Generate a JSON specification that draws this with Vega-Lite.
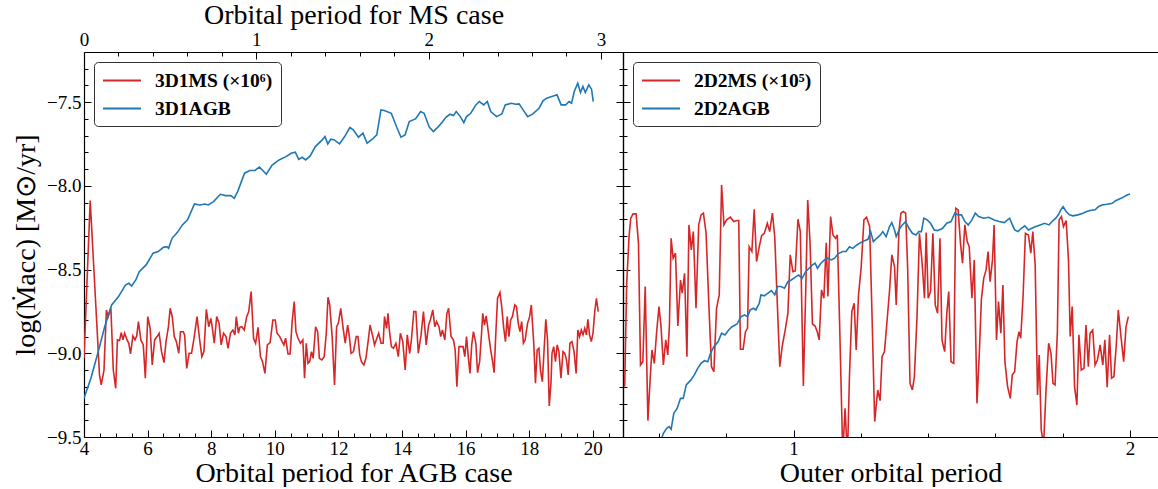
{
"$schema": "https://vega.github.io/schema/vega-lite/v6.json",
"background": "white",
"padding": {"left": 12, "top": 1, "right": 0, "bottom": 0},
"bounds": "flush",
"spacing": 0,
"config": {
  "font": "Liberation Serif",
  "view": {"stroke": null},
  "axis": {"labelFont": "Liberation Serif", "titleFont": "Liberation Serif", "labelFontSize": 19, "titleFontSize": 28, "titleFontWeight": "normal", "labelColor": "#000", "titleColor": "#000", "tickColor": "#000", "domainColor": "#000", "domainWidth": 1.2, "tickWidth": 1, "grid": false, "labelFlush": false, "labelOverlap": false},
  "legend": {"orient": "top-left", "offset": 10, "strokeColor": "#333", "cornerRadius": 4, "fillColor": "white", "padding": 8, "labelFont": "Liberation Serif", "labelFontSize": 19.5, "labelFontWeight": "bold", "labelColor": "#000", "symbolType": "M-1,0H3", "symbolStrokeWidth": 2, "symbolSize": 361, "labelOffset": 32, "rowPadding": 8}
},
"resolve": {"scale": {"color": "independent"}, "legend": {"color": "independent"}},
"datasets": {
"l_ms": [{"p":0,"v":-9.030},{"p":0.036,"v":-8.088},{"p":0.07,"v":-8.741},{"p":0.09,"v":-9.129},{"p":0.1,"v":-9.189},{"p":0.116,"v":-9.100},{"p":0.13,"v":-8.741},{"p":0.14,"v":-8.781},{"p":0.156,"v":-8.731},{"p":0.17,"v":-9.100},{"p":0.184,"v":-9.209},{"p":0.194,"v":-8.920},{"p":0.206,"v":-8.924},{"p":0.216,"v":-8.876},{"p":0.226,"v":-8.920},{"p":0.236,"v":-8.880},{"p":0.25,"v":-8.920},{"p":0.26,"v":-8.940},{"p":0.27,"v":-9.004},{"p":0.284,"v":-8.896},{"p":0.296,"v":-8.920},{"p":0.306,"v":-8.896},{"p":0.316,"v":-8.811},{"p":0.33,"v":-8.920},{"p":0.344,"v":-8.950},{"p":0.356,"v":-9.149},{"p":0.37,"v":-8.781},{"p":0.384,"v":-8.851},{"p":0.396,"v":-9.070},{"p":0.41,"v":-8.920},{"p":0.424,"v":-8.900},{"p":0.436,"v":-8.880},{"p":0.45,"v":-8.990},{"p":0.464,"v":-9.056},{"p":0.476,"v":-8.930},{"p":0.49,"v":-8.841},{"p":0.5,"v":-8.731},{"p":0.512,"v":-8.781},{"p":0.524,"v":-8.900},{"p":0.536,"v":-8.930},{"p":0.55,"v":-9.000},{"p":0.56,"v":-8.871},{"p":0.576,"v":-8.871},{"p":0.584,"v":-8.890},{"p":0.596,"v":-9.090},{"p":0.61,"v":-9.000},{"p":0.624,"v":-9.000},{"p":0.64,"v":-8.900},{"p":0.656,"v":-8.781},{"p":0.67,"v":-8.910},{"p":0.684,"v":-9.020},{"p":0.696,"v":-8.990},{"p":0.71,"v":-8.737},{"p":0.724,"v":-8.841},{"p":0.736,"v":-8.791},{"p":0.744,"v":-8.841},{"p":0.756,"v":-8.940},{"p":0.77,"v":-8.781},{"p":0.784,"v":-8.821},{"p":0.796,"v":-8.950},{"p":0.81,"v":-8.880},{"p":0.824,"v":-8.900},{"p":0.836,"v":-8.970},{"p":0.85,"v":-8.880},{"p":0.864,"v":-8.861},{"p":0.876,"v":-8.890},{"p":0.884,"v":-8.781},{"p":0.896,"v":-8.880},{"p":0.904,"v":-8.845},{"p":0.916,"v":-8.841},{"p":0.93,"v":-8.861},{"p":0.944,"v":-8.781},{"p":0.956,"v":-8.751},{"p":0.97,"v":-8.631},{"p":0.984,"v":-8.910},{"p":0.996,"v":-8.940},{"p":1.01,"v":-8.845},{"p":1.024,"v":-9.020},{"p":1.036,"v":-9.050},{"p":1.05,"v":-9.120},{"p":1.064,"v":-8.950},{"p":1.08,"v":-8.936},{"p":1.096,"v":-8.801},{"p":1.11,"v":-8.801},{"p":1.12,"v":-8.880},{"p":1.136,"v":-8.900},{"p":1.15,"v":-8.930},{"p":1.16,"v":-8.950},{"p":1.17,"v":-8.910},{"p":1.184,"v":-9.004},{"p":1.196,"v":-9.004},{"p":1.208,"v":-8.811},{"p":1.22,"v":-8.691},{"p":1.23,"v":-8.871},{"p":1.24,"v":-8.904},{"p":1.256,"v":-8.940},{"p":1.27,"v":-8.920},{"p":1.28,"v":-9.149},{"p":1.29,"v":-8.940},{"p":1.3,"v":-9.060},{"p":1.31,"v":-9.050},{"p":1.32,"v":-8.990},{"p":1.33,"v":-9.030},{"p":1.344,"v":-8.841},{"p":1.356,"v":-8.871},{"p":1.366,"v":-9.030},{"p":1.38,"v":-9.040},{"p":1.394,"v":-9.020},{"p":1.406,"v":-8.880},{"p":1.416,"v":-8.665},{"p":1.426,"v":-8.711},{"p":1.44,"v":-8.900},{"p":1.454,"v":-9.189},{"p":1.466,"v":-8.841},{"p":1.476,"v":-8.821},{"p":1.49,"v":-8.731},{"p":1.504,"v":-8.851},{"p":1.516,"v":-8.940},{"p":1.53,"v":-8.831},{"p":1.54,"v":-8.900},{"p":1.55,"v":-9.000},{"p":1.564,"v":-8.990},{"p":1.58,"v":-8.900},{"p":1.59,"v":-8.900},{"p":1.6,"v":-9.010},{"p":1.61,"v":-9.050},{"p":1.624,"v":-9.070},{"p":1.636,"v":-9.030},{"p":1.65,"v":-8.920},{"p":1.66,"v":-8.831},{"p":1.676,"v":-8.900},{"p":1.686,"v":-8.950},{"p":1.696,"v":-8.920},{"p":1.71,"v":-8.880},{"p":1.724,"v":-8.940},{"p":1.736,"v":-8.940},{"p":1.744,"v":-8.781},{"p":1.756,"v":-8.851},{"p":1.764,"v":-8.761},{"p":1.774,"v":-8.880},{"p":1.784,"v":-8.960},{"p":1.796,"v":-8.970},{"p":1.81,"v":-8.940},{"p":1.824,"v":-9.020},{"p":1.836,"v":-8.880},{"p":1.85,"v":-8.930},{"p":1.864,"v":-9.100},{"p":1.876,"v":-8.890},{"p":1.89,"v":-9.000},{"p":1.9,"v":-8.920},{"p":1.914,"v":-8.751},{"p":1.926,"v":-8.751},{"p":1.94,"v":-9.000},{"p":1.956,"v":-8.890},{"p":1.97,"v":-8.751},{"p":1.986,"v":-8.950},{"p":2.0,"v":-8.831},{"p":2.01,"v":-8.801},{"p":2.024,"v":-8.741},{"p":2.036,"v":-8.841},{"p":2.046,"v":-8.811},{"p":2.06,"v":-8.841},{"p":2.07,"v":-8.900},{"p":2.08,"v":-8.861},{"p":2.094,"v":-8.920},{"p":2.106,"v":-8.761},{"p":2.116,"v":-8.731},{"p":2.13,"v":-8.900},{"p":2.144,"v":-8.920},{"p":2.154,"v":-8.980},{"p":2.164,"v":-9.199},{"p":2.176,"v":-8.960},{"p":2.19,"v":-8.960},{"p":2.2,"v":-8.960},{"p":2.21,"v":-9.020},{"p":2.22,"v":-8.900},{"p":2.23,"v":-9.020},{"p":2.24,"v":-9.120},{"p":2.25,"v":-8.950},{"p":2.26,"v":-8.871},{"p":2.274,"v":-8.940},{"p":2.284,"v":-9.116},{"p":2.296,"v":-9.050},{"p":2.306,"v":-8.900},{"p":2.314,"v":-8.761},{"p":2.324,"v":-8.831},{"p":2.334,"v":-8.777},{"p":2.346,"v":-8.871},{"p":2.36,"v":-8.980},{"p":2.37,"v":-9.040},{"p":2.38,"v":-9.116},{"p":2.39,"v":-8.880},{"p":2.4,"v":-8.671},{"p":2.414,"v":-8.637},{"p":2.424,"v":-8.721},{"p":2.436,"v":-8.851},{"p":2.446,"v":-8.930},{"p":2.456,"v":-8.781},{"p":2.466,"v":-8.900},{"p":2.476,"v":-8.801},{"p":2.486,"v":-8.781},{"p":2.5,"v":-8.711},{"p":2.51,"v":-8.721},{"p":2.52,"v":-8.821},{"p":2.53,"v":-8.871},{"p":2.54,"v":-8.811},{"p":2.55,"v":-8.940},{"p":2.56,"v":-8.920},{"p":2.574,"v":-8.821},{"p":2.586,"v":-8.781},{"p":2.596,"v":-8.711},{"p":2.61,"v":-8.940},{"p":2.62,"v":-9.179},{"p":2.63,"v":-8.980},{"p":2.64,"v":-8.970},{"p":2.65,"v":-9.110},{"p":2.66,"v":-9.169},{"p":2.67,"v":-8.980},{"p":2.68,"v":-8.797},{"p":2.69,"v":-8.920},{"p":2.7,"v":-9.315},{"p":2.71,"v":-9.179},{"p":2.716,"v":-9.000},{"p":2.726,"v":-8.960},{"p":2.736,"v":-9.050},{"p":2.746,"v":-8.950},{"p":2.756,"v":-8.990},{"p":2.768,"v":-9.149},{"p":2.78,"v":-8.990},{"p":2.79,"v":-9.000},{"p":2.8,"v":-9.040},{"p":2.81,"v":-9.129},{"p":2.82,"v":-8.940},{"p":2.832,"v":-8.930},{"p":2.844,"v":-8.990},{"p":2.856,"v":-9.120},{"p":2.866,"v":-8.861},{"p":2.876,"v":-8.900},{"p":2.886,"v":-8.861},{"p":2.896,"v":-8.890},{"p":2.906,"v":-8.851},{"p":2.916,"v":-8.890},{"p":2.924,"v":-8.797},{"p":2.934,"v":-8.890},{"p":2.944,"v":-8.930},{"p":2.954,"v":-8.880},{"p":2.964,"v":-8.751},{"p":2.974,"v":-8.671},{"p":2.984,"v":-8.751}],
"l_agb": [{"p":4.000,"v":-9.269},{"p":4.217,"v":-9.149},{"p":4.434,"v":-9.000},{"p":4.651,"v":-8.841},{"p":4.869,"v":-8.711},{"p":5.086,"v":-8.661},{"p":5.303,"v":-8.592},{"p":5.412,"v":-8.582},{"p":5.498,"v":-8.598},{"p":5.629,"v":-8.562},{"p":5.737,"v":-8.512},{"p":5.954,"v":-8.472},{"p":6.172,"v":-8.402},{"p":6.334,"v":-8.392},{"p":6.497,"v":-8.367},{"p":6.606,"v":-8.363},{"p":6.660,"v":-8.373},{"p":6.769,"v":-8.313},{"p":6.932,"v":-8.279},{"p":7.094,"v":-8.233},{"p":7.257,"v":-8.203},{"p":7.474,"v":-8.108},{"p":7.637,"v":-8.114},{"p":7.800,"v":-8.108},{"p":7.909,"v":-8.114},{"p":8.072,"v":-8.094},{"p":8.289,"v":-8.050},{"p":8.452,"v":-8.058},{"p":8.615,"v":-8.058},{"p":8.723,"v":-8.074},{"p":8.832,"v":-8.034},{"p":9.049,"v":-7.924},{"p":9.212,"v":-7.908},{"p":9.375,"v":-7.908},{"p":9.516,"v":-7.888},{"p":9.624,"v":-7.908},{"p":9.733,"v":-7.930},{"p":9.917,"v":-7.875},{"p":10.135,"v":-7.845},{"p":10.352,"v":-7.825},{"p":10.515,"v":-7.805},{"p":10.645,"v":-7.799},{"p":10.753,"v":-7.841},{"p":10.862,"v":-7.829},{"p":10.971,"v":-7.845},{"p":11.112,"v":-7.821},{"p":11.275,"v":-7.765},{"p":11.492,"v":-7.725},{"p":11.579,"v":-7.705},{"p":11.666,"v":-7.749},{"p":11.763,"v":-7.721},{"p":11.872,"v":-7.725},{"p":12.035,"v":-7.749},{"p":12.197,"v":-7.705},{"p":12.360,"v":-7.651},{"p":12.469,"v":-7.665},{"p":12.632,"v":-7.709},{"p":12.773,"v":-7.685},{"p":12.903,"v":-7.745},{"p":13.066,"v":-7.721},{"p":13.207,"v":-7.695},{"p":13.338,"v":-7.546},{"p":13.446,"v":-7.550},{"p":13.663,"v":-7.566},{"p":13.826,"v":-7.645},{"p":13.967,"v":-7.709},{"p":14.098,"v":-7.695},{"p":14.228,"v":-7.616},{"p":14.423,"v":-7.600},{"p":14.586,"v":-7.556},{"p":14.695,"v":-7.566},{"p":14.858,"v":-7.649},{"p":14.988,"v":-7.675},{"p":15.129,"v":-7.649},{"p":15.238,"v":-7.625},{"p":15.379,"v":-7.590},{"p":15.509,"v":-7.572},{"p":15.618,"v":-7.580},{"p":15.705,"v":-7.556},{"p":15.835,"v":-7.586},{"p":15.944,"v":-7.622},{"p":16.030,"v":-7.586},{"p":16.161,"v":-7.566},{"p":16.324,"v":-7.516},{"p":16.432,"v":-7.496},{"p":16.573,"v":-7.516},{"p":16.682,"v":-7.496},{"p":16.790,"v":-7.556},{"p":16.975,"v":-7.586},{"p":17.138,"v":-7.570},{"p":17.247,"v":-7.516},{"p":17.442,"v":-7.506},{"p":17.572,"v":-7.512},{"p":17.681,"v":-7.510},{"p":17.789,"v":-7.540},{"p":17.952,"v":-7.586},{"p":18.115,"v":-7.570},{"p":18.310,"v":-7.536},{"p":18.441,"v":-7.490},{"p":18.549,"v":-7.476},{"p":18.712,"v":-7.466},{"p":18.875,"v":-7.456},{"p":19.005,"v":-7.516},{"p":19.147,"v":-7.516},{"p":19.255,"v":-7.496},{"p":19.331,"v":-7.506},{"p":19.418,"v":-7.436},{"p":19.527,"v":-7.386},{"p":19.613,"v":-7.442},{"p":19.689,"v":-7.406},{"p":19.765,"v":-7.442},{"p":19.874,"v":-7.396},{"p":19.961,"v":-7.422},{"p":20.015,"v":-7.496}],
"r_ms": [{"p":0.498,"v":-9.199},{"p":0.504,"v":-8.582},{"p":0.511,"v":-8.303},{"p":0.516,"v":-8.193},{"p":0.523,"v":-8.167},{"p":0.532,"v":-8.167},{"p":0.539,"v":-8.343},{"p":0.545,"v":-9.070},{"p":0.552,"v":-9.050},{"p":0.559,"v":-8.601},{"p":0.567,"v":-9.402},{"p":0.573,"v":-9.179},{"p":0.579,"v":-8.980},{"p":0.586,"v":-9.060},{"p":0.593,"v":-8.871},{"p":0.600,"v":-8.721},{"p":0.606,"v":-8.841},{"p":0.613,"v":-9.070},{"p":0.620,"v":-8.920},{"p":0.626,"v":-9.010},{"p":0.631,"v":-8.831},{"p":0.636,"v":-8.313},{"p":0.642,"v":-8.432},{"p":0.649,"v":-8.402},{"p":0.656,"v":-8.837},{"p":0.664,"v":-8.562},{"p":0.669,"v":-8.641},{"p":0.676,"v":-8.522},{"p":0.683,"v":-9.020},{"p":0.689,"v":-8.233},{"p":0.696,"v":-8.382},{"p":0.702,"v":-8.273},{"p":0.710,"v":-8.731},{"p":0.718,"v":-8.233},{"p":0.725,"v":-8.173},{"p":0.732,"v":-8.163},{"p":0.740,"v":-8.283},{"p":0.748,"v":-8.701},{"p":0.756,"v":-9.080},{"p":0.763,"v":-9.110},{"p":0.771,"v":-8.731},{"p":0.779,"v":-8.651},{"p":0.786,"v":-7.994},{"p":0.793,"v":-8.233},{"p":0.801,"v":-8.203},{"p":0.812,"v":-8.187},{"p":0.822,"v":-8.213},{"p":0.832,"v":-8.207},{"p":0.837,"v":-8.207},{"p":0.842,"v":-8.976},{"p":0.850,"v":-8.976},{"p":0.857,"v":-8.871},{"p":0.863,"v":-8.851},{"p":0.868,"v":-8.363},{"p":0.876,"v":-8.392},{"p":0.883,"v":-8.139},{"p":0.890,"v":-8.452},{"p":0.898,"v":-8.363},{"p":0.905,"v":-8.297},{"p":0.913,"v":-8.283},{"p":0.922,"v":-8.223},{"p":0.929,"v":-8.273},{"p":0.937,"v":-8.163},{"p":0.944,"v":-8.303},{"p":0.952,"v":-8.721},{"p":0.959,"v":-9.080},{"p":0.966,"v":-8.960},{"p":0.975,"v":-8.861},{"p":0.983,"v":-8.761},{"p":0.990,"v":-8.412},{"p":0.998,"v":-8.512},{"p":1.005,"v":-8.508},{"p":1.013,"v":-8.199},{"p":1.020,"v":-8.273},{"p":1.029,"v":-9.195},{"p":1.036,"v":-8.631},{"p":1.042,"v":-8.084},{"p":1.049,"v":-8.343},{"p":1.056,"v":-8.825},{"p":1.064,"v":-8.837},{"p":1.071,"v":-8.876},{"p":1.076,"v":-8.920},{"p":1.083,"v":-8.621},{"p":1.090,"v":-8.671},{"p":1.097,"v":-8.339},{"p":1.102,"v":-8.661},{"p":1.110,"v":-8.183},{"p":1.117,"v":-8.293},{"p":1.125,"v":-8.313},{"p":1.130,"v":-8.293},{"p":1.137,"v":-8.841},{"p":1.146,"v":-9.600},{"p":1.153,"v":-9.329},{"p":1.160,"v":-9.620},{"p":1.166,"v":-9.139},{"p":1.173,"v":-8.751},{"p":1.180,"v":-8.701},{"p":1.186,"v":-8.980},{"p":1.193,"v":-8.651},{"p":1.201,"v":-8.482},{"p":1.209,"v":-8.203},{"p":1.217,"v":-8.187},{"p":1.226,"v":-8.243},{"p":1.234,"v":-8.841},{"p":1.241,"v":-9.408},{"p":1.250,"v":-9.219},{"p":1.257,"v":-9.283},{"p":1.263,"v":-9.020},{"p":1.270,"v":-8.990},{"p":1.277,"v":-8.825},{"p":1.285,"v":-8.631},{"p":1.292,"v":-8.412},{"p":1.300,"v":-8.482},{"p":1.305,"v":-8.711},{"p":1.313,"v":-8.273},{"p":1.319,"v":-8.163},{"p":1.326,"v":-8.153},{"p":1.333,"v":-8.163},{"p":1.339,"v":-8.492},{"p":1.346,"v":-9.179},{"p":1.353,"v":-9.219},{"p":1.359,"v":-9.139},{"p":1.367,"v":-8.771},{"p":1.374,"v":-8.283},{"p":1.382,"v":-8.462},{"p":1.389,"v":-8.671},{"p":1.394,"v":-8.279},{"p":1.400,"v":-8.671},{"p":1.407,"v":-8.631},{"p":1.414,"v":-8.283},{"p":1.421,"v":-8.711},{"p":1.428,"v":-8.761},{"p":1.435,"v":-8.313},{"p":1.441,"v":-8.920},{"p":1.449,"v":-8.990},{"p":1.455,"v":-8.771},{"p":1.461,"v":-8.631},{"p":1.468,"v":-9.050},{"p":1.476,"v":-9.060},{"p":1.482,"v":-8.133},{"p":1.489,"v":-8.143},{"p":1.496,"v":-8.343},{"p":1.502,"v":-8.462},{"p":1.509,"v":-8.233},{"p":1.516,"v":-8.333},{"p":1.522,"v":-8.363},{"p":1.530,"v":-8.671},{"p":1.537,"v":-8.442},{"p":1.545,"v":-9.299},{"p":1.552,"v":-9.000},{"p":1.558,"v":-8.681},{"p":1.565,"v":-8.552},{"p":1.572,"v":-8.502},{"p":1.578,"v":-8.392},{"p":1.584,"v":-8.572},{"p":1.591,"v":-8.442},{"p":1.596,"v":-8.233},{"p":1.603,"v":-8.920},{"p":1.609,"v":-8.691},{"p":1.616,"v":-8.880},{"p":1.622,"v":-8.592},{"p":1.628,"v":-9.050},{"p":1.636,"v":-9.199},{"p":1.644,"v":-9.269},{"p":1.650,"v":-9.129},{"p":1.657,"v":-9.110},{"p":1.664,"v":-8.930},{"p":1.670,"v":-8.871},{"p":1.675,"v":-8.910},{"p":1.682,"v":-8.661},{"p":1.689,"v":-8.283},{"p":1.698,"v":-8.293},{"p":1.705,"v":-8.402},{"p":1.711,"v":-8.273},{"p":1.718,"v":-8.472},{"p":1.725,"v":-9.249},{"p":1.730,"v":-9.010},{"p":1.736,"v":-9.458},{"p":1.743,"v":-9.550},{"p":1.750,"v":-9.229},{"p":1.758,"v":-8.940},{"p":1.765,"v":-9.000},{"p":1.771,"v":-9.179},{"p":1.777,"v":-9.189},{"p":1.784,"v":-8.871},{"p":1.789,"v":-8.203},{"p":1.796,"v":-8.183},{"p":1.802,"v":-8.243},{"p":1.810,"v":-8.207},{"p":1.817,"v":-8.442},{"p":1.822,"v":-8.900},{"p":1.828,"v":-8.721},{"p":1.835,"v":-9.199},{"p":1.842,"v":-9.309},{"p":1.848,"v":-8.890},{"p":1.855,"v":-9.100},{"p":1.863,"v":-9.090},{"p":1.869,"v":-8.831},{"p":1.876,"v":-9.080},{"p":1.881,"v":-8.880},{"p":1.889,"v":-8.861},{"p":1.896,"v":-9.070},{"p":1.903,"v":-9.040},{"p":1.911,"v":-8.950},{"p":1.919,"v":-9.070},{"p":1.925,"v":-8.920},{"p":1.932,"v":-9.203},{"p":1.939,"v":-8.890},{"p":1.945,"v":-9.149},{"p":1.952,"v":-9.139},{"p":1.959,"v":-8.950},{"p":1.965,"v":-8.741},{"p":1.973,"v":-8.900},{"p":1.981,"v":-9.050},{"p":1.988,"v":-8.841},{"p":1.995,"v":-8.781}],
"r_agb": [{"p":0.608,"v":-9.508},{"p":0.613,"v":-9.478},{"p":0.623,"v":-9.448},{"p":0.630,"v":-9.438},{"p":0.636,"v":-9.454},{"p":0.644,"v":-9.359},{"p":0.654,"v":-9.329},{"p":0.664,"v":-9.269},{"p":0.672,"v":-9.269},{"p":0.681,"v":-9.189},{"p":0.695,"v":-9.159},{"p":0.705,"v":-9.129},{"p":0.715,"v":-9.090},{"p":0.725,"v":-9.060},{"p":0.735,"v":-9.044},{"p":0.745,"v":-9.050},{"p":0.753,"v":-9.000},{"p":0.763,"v":-8.960},{"p":0.776,"v":-8.930},{"p":0.786,"v":-8.880},{"p":0.796,"v":-8.890},{"p":0.807,"v":-8.861},{"p":0.817,"v":-8.841},{"p":0.832,"v":-8.825},{"p":0.844,"v":-8.781},{"p":0.854,"v":-8.771},{"p":0.863,"v":-8.781},{"p":0.871,"v":-8.741},{"p":0.881,"v":-8.731},{"p":0.888,"v":-8.741},{"p":0.898,"v":-8.701},{"p":0.903,"v":-8.651},{"p":0.913,"v":-8.657},{"p":0.924,"v":-8.641},{"p":0.934,"v":-8.625},{"p":0.944,"v":-8.651},{"p":0.952,"v":-8.601},{"p":0.962,"v":-8.601},{"p":0.973,"v":-8.611},{"p":0.983,"v":-8.572},{"p":0.993,"v":-8.562},{"p":1.000,"v":-8.552},{"p":1.007,"v":-8.542},{"p":1.015,"v":-8.532},{"p":1.025,"v":-8.552},{"p":1.036,"v":-8.512},{"p":1.046,"v":-8.492},{"p":1.056,"v":-8.472},{"p":1.064,"v":-8.462},{"p":1.071,"v":-8.492},{"p":1.081,"v":-8.462},{"p":1.092,"v":-8.442},{"p":1.102,"v":-8.432},{"p":1.112,"v":-8.442},{"p":1.122,"v":-8.432},{"p":1.132,"v":-8.406},{"p":1.146,"v":-8.392},{"p":1.156,"v":-8.392},{"p":1.166,"v":-8.363},{"p":1.176,"v":-8.373},{"p":1.188,"v":-8.353},{"p":1.199,"v":-8.339},{"p":1.211,"v":-8.327},{"p":1.221,"v":-8.319},{"p":1.229,"v":-8.273},{"p":1.237,"v":-8.333},{"p":1.247,"v":-8.313},{"p":1.258,"v":-8.293},{"p":1.265,"v":-8.273},{"p":1.275,"v":-8.303},{"p":1.285,"v":-8.243},{"p":1.292,"v":-8.219},{"p":1.300,"v":-8.263},{"p":1.305,"v":-8.303},{"p":1.316,"v":-8.253},{"p":1.323,"v":-8.233},{"p":1.333,"v":-8.213},{"p":1.343,"v":-8.253},{"p":1.353,"v":-8.283},{"p":1.364,"v":-8.293},{"p":1.372,"v":-8.273},{"p":1.380,"v":-8.273},{"p":1.387,"v":-8.193},{"p":1.397,"v":-8.203},{"p":1.407,"v":-8.223},{"p":1.418,"v":-8.263},{"p":1.428,"v":-8.267},{"p":1.443,"v":-8.253},{"p":1.455,"v":-8.223},{"p":1.468,"v":-8.213},{"p":1.479,"v":-8.163},{"p":1.489,"v":-8.173},{"p":1.499,"v":-8.173},{"p":1.509,"v":-8.213},{"p":1.519,"v":-8.233},{"p":1.530,"v":-8.203},{"p":1.540,"v":-8.163},{"p":1.550,"v":-8.183},{"p":1.565,"v":-8.193},{"p":1.580,"v":-8.187},{"p":1.596,"v":-8.203},{"p":1.611,"v":-8.213},{"p":1.626,"v":-8.219},{"p":1.642,"v":-8.193},{"p":1.649,"v":-8.227},{"p":1.657,"v":-8.263},{"p":1.667,"v":-8.273},{"p":1.677,"v":-8.253},{"p":1.687,"v":-8.239},{"p":1.698,"v":-8.263},{"p":1.708,"v":-8.253},{"p":1.720,"v":-8.243},{"p":1.733,"v":-8.233},{"p":1.746,"v":-8.223},{"p":1.759,"v":-8.233},{"p":1.771,"v":-8.207},{"p":1.779,"v":-8.193},{"p":1.787,"v":-8.173},{"p":1.794,"v":-8.143},{"p":1.801,"v":-8.124},{"p":1.810,"v":-8.153},{"p":1.820,"v":-8.173},{"p":1.830,"v":-8.179},{"p":1.845,"v":-8.173},{"p":1.860,"v":-8.163},{"p":1.871,"v":-8.153},{"p":1.881,"v":-8.147},{"p":1.896,"v":-8.143},{"p":1.906,"v":-8.124},{"p":1.916,"v":-8.114},{"p":1.932,"v":-8.110},{"p":1.947,"v":-8.104},{"p":1.957,"v":-8.088},{"p":1.973,"v":-8.074},{"p":1.983,"v":-8.064},{"p":1.991,"v":-8.054},{"p":2.000,"v":-8.048}]
},
"hconcat": [
{
  "width": 539, "height": 385,
  "resolve": {"scale": {"x": "independent", "y": "independent"}, "axis": {"x": "independent", "y": "independent"}},
  "layer": [
    {"data": {"name": "l_ms"}, "mark": {"type": "line", "strokeWidth": 1.6, "clip": true},
     "encoding": {
       "x": {"field": "p", "type": "quantitative", "scale": {"domain": [0, 3.128], "nice": false, "zero": false}, "axis": {"orient": "top", "values": [0, 1, 2, 3], "format": "d", "title": "Orbital period for MS case", "tickSize": -7, "labelPadding": 10, "titlePadding": 1}},
       "y": {"field": "v", "type": "quantitative", "scale": {"domain": [-9.5, -7.2], "nice": false, "zero": false}, "axis": {"orient": "right", "values": [-9.5, -9, -8.5, -8, -7.5], "labels": false, "title": null, "tickSize": -7}},
       "color": {"datum": "3D1MS (×10⁶)", "scale": {"domain": ["3D1MS (×10⁶)", "3D1AGB"], "range": ["#d62728", "#1f77b4"]}, "legend": {"title": null}}
     }},
    {"data": {"name": "l_agb"}, "mark": {"type": "line", "strokeWidth": 1.6, "clip": true},
     "encoding": {
       "x": {"field": "p", "type": "quantitative", "scale": {"domain": [4, 20.95], "nice": false, "zero": false}, "axis": {"orient": "bottom", "values": [4, 6, 8, 10, 12, 14, 16, 18, 20], "format": "d", "title": "Orbital period for AGB case", "tickSize": -7, "labelPadding": 9, "titlePadding": 1}},
       "y": {"field": "v", "type": "quantitative", "scale": {"domain": [-9.5, -7.2], "nice": false, "zero": false}, "axis": {"orient": "left", "values": [-9.5, -9, -8.5, -8, -7.5], "format": ".1f", "title": "log(Ṁacc) [M⊙/yr]", "tickSize": -7, "labelPadding": 10, "titlePadding": 6}},
       "color": {"datum": "3D1AGB", "scale": {"domain": ["3D1MS (×10⁶)", "3D1AGB"], "range": ["#d62728", "#1f77b4"]}, "legend": {"title": null}}
     }},
    {"data": {"name": "l_agb"}, "mark": {"type": "line", "opacity": 0},
     "encoding": {
       "x": {"field": "p", "type": "quantitative", "scale": {"domain": [4, 20.95], "nice": false, "zero": false}, "axis": {"orient": "bottom", "values": [4.5, 5, 5.5, 6.5, 7, 7.5, 8.5, 9, 9.5, 10.5, 11, 11.5, 12.5, 13, 13.5, 14.5, 15, 15.5, 16.5, 17, 17.5, 18.5, 19, 19.5, 20.5], "labels": false, "domain": false, "title": null, "tickSize": -4}},
       "y": {"field": "v", "type": "quantitative", "scale": {"domain": [-9.5, -7.2], "nice": false, "zero": false}, "axis": {"orient": "left", "values": [-9.4, -9.3, -9.2, -9.1, -8.9, -8.8, -8.7, -8.6, -8.4, -8.3, -8.2, -8.1, -7.9, -7.8, -7.7, -7.6, -7.4, -7.3], "labels": false, "domain": false, "title": null, "tickSize": -4}}
     }},
    {"data": {"name": "l_ms"}, "mark": {"type": "line", "opacity": 0},
     "encoding": {
       "x": {"field": "p", "type": "quantitative", "scale": {"domain": [0, 3.128], "nice": false, "zero": false}, "axis": {"orient": "top", "values": [0.2, 0.4, 0.6, 0.8, 1.2, 1.4, 1.6, 1.8, 2.2, 2.4, 2.6, 2.8], "labels": false, "domain": false, "title": null, "tickSize": -4}},
       "y": {"field": "v", "type": "quantitative", "scale": {"domain": [-9.5, -7.2], "nice": false, "zero": false}, "axis": {"orient": "right", "values": [-9.4, -9.3, -9.2, -9.1, -8.9, -8.8, -8.7, -8.6, -8.4, -8.3, -8.2, -8.1, -7.9, -7.8, -7.7, -7.6, -7.4, -7.3], "labels": false, "domain": false, "title": null, "tickSize": -4}}
     }}
  ]
},
{
  "width": 535, "height": 385,
  "resolve": {"scale": {"x": "independent", "y": "independent"}, "axis": {"x": "independent", "y": "independent"}},
  "layer": [
    {"data": {"name": "r_ms"}, "mark": {"type": "line", "strokeWidth": 1.6, "clip": true},
     "encoding": {
       "x": {"field": "p", "type": "quantitative", "scale": {"domain": [0.493, 2.083], "nice": false, "zero": false}, "axis": {"orient": "top", "ticks": false, "labels": false, "title": null}},
       "y": {"field": "v", "type": "quantitative", "scale": {"domain": [-9.5, -7.2], "nice": false, "zero": false}, "axis": {"orient": "left", "values": [-9.4, -9.3, -9.2, -9.1, -8.9, -8.8, -8.7, -8.6, -8.4, -8.3, -8.2, -8.1, -7.9, -7.8, -7.7, -7.6, -7.4, -7.3], "labels": false, "domain": false, "title": null, "tickSize": -4}},
       "color": {"datum": "2D2MS (×10⁵)", "scale": {"domain": ["2D2MS (×10⁵)", "2D2AGB"], "range": ["#d62728", "#1f77b4"]}, "legend": {"title": null}}
     }},
    {"data": {"name": "r_agb"}, "mark": {"type": "line", "strokeWidth": 1.6, "clip": true},
     "encoding": {
       "x": {"field": "p", "type": "quantitative", "scale": {"domain": [0.493, 2.083], "nice": false, "zero": false}, "axis": {"orient": "bottom", "values": [1, 2], "format": "d", "title": "Outer orbital period", "tickSize": -7, "labelPadding": 9, "titlePadding": 1}},
       "y": {"field": "v", "type": "quantitative", "scale": {"domain": [-9.5, -7.2], "nice": false, "zero": false}, "axis": {"orient": "left", "values": [-9.5, -9, -8.5, -8, -7.5], "labels": false, "title": null, "tickSize": -7}},
       "color": {"datum": "2D2AGB", "scale": {"domain": ["2D2MS (×10⁵)", "2D2AGB"], "range": ["#d62728", "#1f77b4"]}, "legend": {"title": null}}
     }},
    {"data": {"name": "r_agb"}, "mark": {"type": "line", "opacity": 0},
     "encoding": {
       "x": {"field": "p", "type": "quantitative", "scale": {"domain": [0.493, 2.083], "nice": false, "zero": false}, "axis": {"orient": "bottom", "values": [0.6, 0.8, 1.2, 1.4, 1.6, 1.8], "labels": false, "domain": false, "title": null, "tickSize": -4}},
       "y": {"field": "v", "type": "quantitative", "scale": {"domain": [-9.5, -7.2], "nice": false, "zero": false}, "axis": null}
     }}
  ]
}
]
}
